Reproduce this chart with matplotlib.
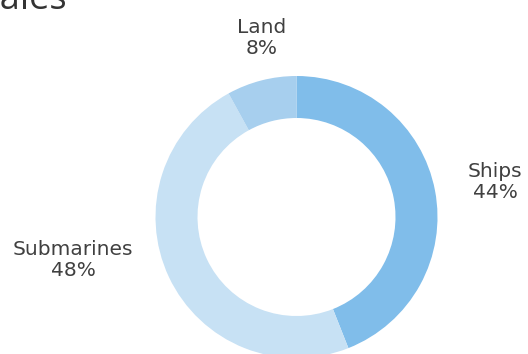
import matplotlib.pyplot as plt

# sales share by segment
segments = ["Ships", "Submarines", "Land"]
shares = [44, 48, 8]
colors = ["#80bdea", "#c7e1f4", "#a7cfee"]

# where each label sits (figure pixels, y down)
label_pos = [(495, 182), (73, 260), (262, 38)]

fig = plt.figure(figsize=(5.28, 3.54), dpi=100)
ax = fig.add_axes([0, 0, 1, 1])

# pie drawn on an inverted y axis, so go counterclockwise to look clockwise
ax.pie(shares, colors=colors, startangle=-90, counterclock=True,
       center=(296.5, 217), radius=141, frame=True,
       wedgeprops=dict(width=42, linewidth=0))
ax.set_xlim(0, 528)
ax.set_ylim(354, 0)
ax.set_aspect("equal")
ax.axis("off")

for name, val, (x, y) in zip(segments, shares, label_pos):
    ax.text(x, y, f"{name}\n{val}%", ha="center", va="center",
            fontsize=14.5, color="#404040", linespacing=1.15)

ax.text(-20, 9, "Sales", fontsize=26, color="#333333",
        ha="left", va="baseline", family="Open Sans")

fig.savefig("out.png", dpi=100)
